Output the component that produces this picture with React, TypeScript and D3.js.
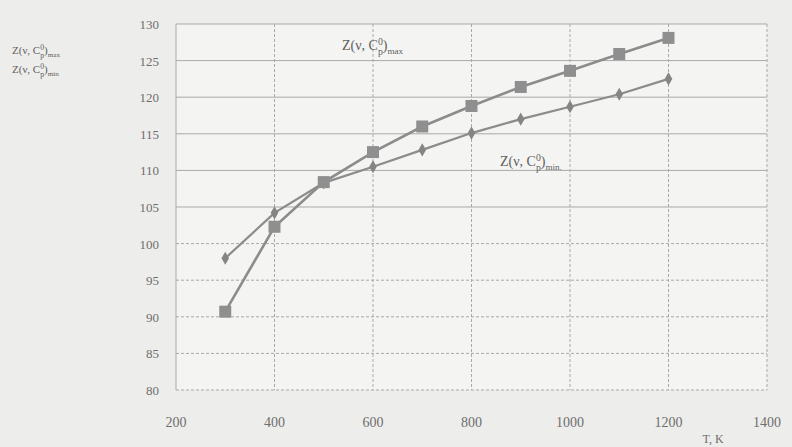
import React, { useEffect, useRef } from 'react';
import * as d3 from 'd3';

const temps = [300, 400, 500, 600, 700, 800, 900, 1000, 1100, 1200];
const zMax = [90.7, 102.3, 108.4, 112.5, 116.0, 118.8, 121.4, 123.6, 125.9, 128.1];
const zMin = [98.0, 104.2, 108.3, 110.5, 112.8, 115.1, 117.0, 118.7, 120.4, 122.5];
const xTicks = [200, 400, 600, 800, 1000, 1200, 1400];
const yTicks = [80, 85, 90, 95, 100, 105, 110, 115, 120, 125, 130];

const W = 792;
const H = 447;
const INK = '#8c8c8c';
const TXT = '#6e6e6e';
const FONT = '"Liberation Serif", "DejaVu Serif", serif';

// label with superscript / subscript pieces
const addZLabel = (g: any, x: number, y: number, sub: string, size: number) => {
  const t = g.append('text')
    .attr('x', x).attr('y', y)
    .style('font-family', FONT)
    .style('font-size', `${size}px`)
    .style('fill', '#5f5f5f');
  t.append('tspan').text('Z(ν, C');
  t.append('tspan').attr('dy', -size * 0.35).style('font-size', `${size * 0.7}px`).text('0');
  t.append('tspan').attr('dx', -size * 0.35).attr('dy', size * 0.7).style('font-size', `${size * 0.7}px`).text('p');
  t.append('tspan').attr('dy', -size * 0.35).text(')');
  t.append('tspan').attr('dy', size * 0.3).style('font-size', `${size * 0.65}px`).text(sub);
};

const App: React.FC = () => {
  const svgRef = useRef<SVGSVGElement>(null);

  useEffect(() => {
    document.body.style.margin = '0';
    if (!svgRef.current) return;
    const svg = d3.select(svgRef.current);
    svg.selectAll('*').remove();

    const x = d3.scaleLinear().domain([200, 1400]).range([176, 767]);
    const y = d3.scaleLinear().domain([80, 130]).range([390, 24]);

    svg.append('rect').attr('width', W).attr('height', H).attr('fill', '#ededeb');
    svg.append('rect')
      .attr('x', x(200)).attr('y', y(130))
      .attr('width', x(1400) - x(200)).attr('height', y(80) - y(130))
      .attr('fill', '#f4f4f2');

    const grid = svg.append('g');
    yTicks.forEach((v) => {
      grid.append('line')
        .attr('x1', x(200)).attr('x2', x(1400))
        .attr('y1', y(v)).attr('y2', y(v))
        .attr('stroke', '#a9a9a9').attr('stroke-width', 1)
        .attr('stroke-dasharray', v <= 100 ? '3,2' : null);
    });
    xTicks.forEach((v) => {
      grid.append('line')
        .attr('x1', x(v)).attr('x2', x(v))
        .attr('y1', y(130)).attr('y2', y(80))
        .attr('stroke', '#a9a9a9').attr('stroke-width', 1)
        .attr('stroke-dasharray', v >= 400 ? '3,2' : null);
    });

    // tick labels
    svg.append('g').selectAll('text').data(yTicks).join('text')
      .attr('x', 159).attr('y', (d) => y(d) + 5)
      .attr('text-anchor', 'end')
      .style('font-family', FONT).style('font-size', '13px').style('fill', TXT)
      .text((d) => d);
    svg.append('g').selectAll('text').data(xTicks).join('text')
      .attr('x', (d) => x(d)).attr('y', 427)
      .attr('text-anchor', 'middle')
      .style('font-family', FONT).style('font-size', '14px').style('fill', TXT)
      .text((d) => d);

    svg.append('text').attr('x', 713).attr('y', 443)
      .attr('text-anchor', 'middle')
      .style('font-family', FONT).style('font-size', '12px').style('fill', TXT)
      .text('T, K');

    const line = d3.line<number>().x((_, i) => x(temps[i])).y((d) => y(d));

    svg.append('path').datum(zMin).attr('d', line)
      .attr('fill', 'none').attr('stroke', INK).attr('stroke-width', 2.2);
    svg.append('path').datum(zMax).attr('d', line)
      .attr('fill', 'none').attr('stroke', INK).attr('stroke-width', 2.6);

    const diamond = d3.symbol().type(d3.symbolDiamond).size(50);
    svg.append('g').selectAll('path').data(zMin).join('path')
      .attr('transform', (d, i) => `translate(${x(temps[i])},${y(d)})`)
      .attr('d', diamond as any)
      .attr('fill', '#858585');

    svg.append('g').selectAll('rect').data(zMax).join('rect')
      .attr('x', (d, i) => x(temps[i]) - 6).attr('y', (d) => y(d) - 6)
      .attr('width', 12).attr('height', 12)
      .attr('fill', '#8f8f8f');

    addZLabel(svg, 342, 50, 'max', 14);
    addZLabel(svg, 500, 166, 'min.', 14);
    addZLabel(svg, 12, 54, 'max', 11);
    addZLabel(svg, 12, 73, 'min', 11);
  }, []);

  return <svg ref={svgRef} width={W} height={H} style={{ display: 'block' }} />;
};

export default App;
